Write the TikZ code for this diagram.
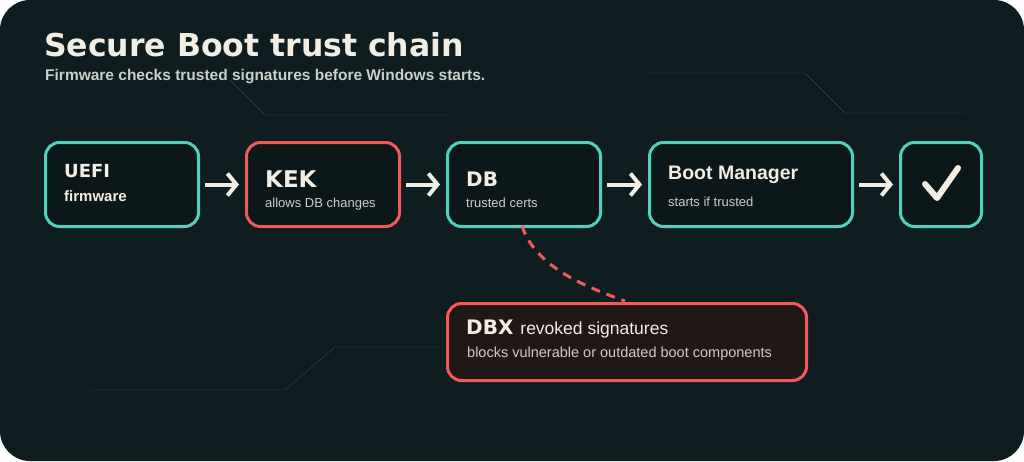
\documentclass[tikz,border=0pt]{standalone}
\usepackage{fontspec}
\setmainfont{Liberation Sans}
\newfontfamily\headfont{DejaVu Sans}
\usetikzlibrary{positioning,arrows.meta}
\definecolor{bgdark}{HTML}{0F1D20}
\definecolor{boxfill}{HTML}{0B1719}
\definecolor{dbxfill}{HTML}{221717}
\definecolor{teal}{HTML}{4FD1BE}
\definecolor{coral}{HTML}{F05A5A}
\definecolor{ink}{HTML}{F2EEE4}
\definecolor{soft}{HTML}{C9CFCB}
\definecolor{trace}{HTML}{34474A}
\tikzset{
  stage/.style={draw=teal, line width=3pt, fill=boxfill, rounded corners=14pt, anchor=north west, inner sep=0pt},
  alert/.style={stage, draw=coral},
  flow/.style={-{Straight Barb[length=9pt,width=22pt]}, draw=ink, line width=4pt, shorten <=5pt, shorten >=6pt},
  head/.style={font=\headfont\bfseries\fontsize{20}{24}\selectfont, text=ink, anchor=west, inner sep=0pt},
  sub/.style={font=\fontsize{13}{15}\selectfont, text=soft, anchor=west, inner sep=0pt},
}
\begin{document}
\begin{tikzpicture}[x=1pt,y=-1pt]
  \useasboundingbox (0,0) rectangle (1024,461);
  \fill[bgdark, rounded corners=30pt] (0,0) rectangle (1024,461);
  % thin traces
  \draw[trace] (230,80) -- (265,115) -- (450,115);
  \draw[trace] (648,73) -- (805,73) -- (845,113) -- (965,113);
  \draw[trace] (90,390) -- (285,390) -- (335,347) -- (440,347);
  % title
  \node[anchor=west, inner sep=0pt, text=ink, font=\headfont\bfseries\fontsize{31.5}{34}\selectfont] (title) at (44,45) {Secure Boot trust chain};
  \node[anchor=west, inner sep=0pt, text=soft, font=\bfseries\fontsize{15.5}{17}\selectfont] (subtitle) at (45,77) {Firmware checks trusted signatures before Windows starts.};
  % chain
  \node[stage, minimum width=153pt, minimum height=84pt] (UEFI) at (44,141) {};
  \node[alert, minimum width=153pt, minimum height=84pt] (KEK) at (245,141) {};
  \node[stage, minimum width=153pt, minimum height=84pt] (DB) at (446,141) {};
  \node[stage, minimum width=203pt, minimum height=84pt] (BM) at (648,141) {};
  \node[stage, minimum width=81pt, minimum height=84pt] (OK) at (899,141) {};
  \node[alert, fill=dbxfill, minimum width=359pt, minimum height=77pt] (DBX) at (446,302) {};

  \node[head, font=\headfont\bfseries\fontsize{18}{22}\selectfont] at (64,171) {UEFI};
  \node[sub, font=\bfseries\fontsize{15}{16}\selectfont, text=ink] at (64,196) {firmware};
  \node[head, font=\headfont\bfseries\fontsize{23}{26}\selectfont] at (265,179) {KEK};
  \node[sub] at (265,204) {allows DB changes};
  \node[head] at (466,179) {DB};
  \node[sub] at (466,203) {trusted certs};
  \node[head, font=\bfseries\fontsize{19.5}{22}\selectfont] at (668,175) {Boot Manager};
  \node[sub] at (668,202) {starts if trusted};
  \draw[ink, line width=6pt, line cap=round, line join=round] (925,184) -- (937,198) -- (958,168);
  \node[head] at (466,329) {DBX \normalfont\fontsize{17.5}{18}\selectfont revoked signatures};
  \node[sub, font=\fontsize{14.5}{16}\selectfont] at (467,354) {blocks vulnerable or outdated boot components};

  \draw[flow] (UEFI) -- (KEK);
  \draw[flow] (KEK) -- (DB);
  \draw[flow] (DB) -- (BM);
  \draw[flow] (BM) -- (OK);
  \draw[coral, line width=3pt, dash pattern=on 9pt off 7pt] (522,226) .. controls (535,265) and (580,285) .. (625,301);
\end{tikzpicture}
\end{document}
